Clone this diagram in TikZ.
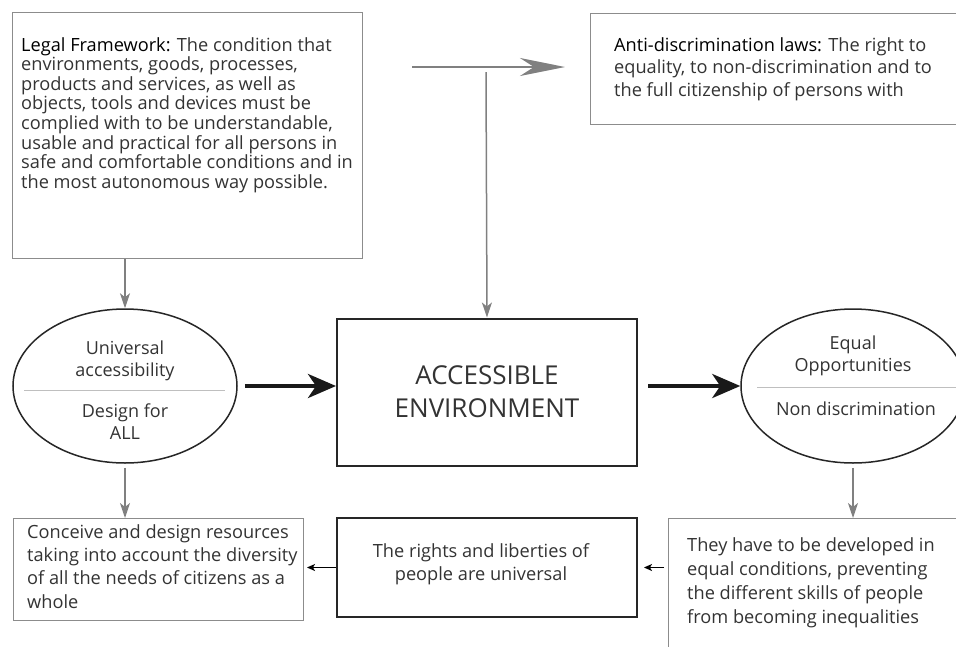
\documentclass[tikz,border=0pt]{standalone}
\usepackage{fontspec}
\setmainfont{Open Sans}
\usetikzlibrary{arrows.meta,shapes.geometric}

\definecolor{linegray}{HTML}{808080}
\definecolor{boxgray}{HTML}{8C8C8C}
\definecolor{txtgray}{HTML}{333333}

\tikzset{
  framebox/.style={draw=boxgray, line width=1pt, inner sep=0pt},
  heavybox/.style={draw=black!85, line width=2pt, inner sep=0pt},
  bodytext/.style={inner sep=0pt, align=left, text=txtgray, font=\fontsize{18.2}{23.4}\selectfont},
  ovaltext/.style={inner sep=0pt, align=center, text=txtgray, font=\fontsize{18}{22}\selectfont},
  oval/.style={ellipse, draw=black!85, line width=1.5pt, minimum width=224pt, minimum height=154pt, inner sep=0pt},
  divider/.style={draw=black!25, line width=0.8pt},
  feed/.style={draw=linegray, line width=1.5pt, -{Stealth[length=15pt, width=10pt, inset=4pt]}},
  feedwide/.style={draw=linegray, line width=2.6pt, -{Stealth[length=45pt, width=18pt, inset=14pt]}},
  push/.style={draw=black!90, line width=4pt, -{Stealth[length=28pt, width=24pt, inset=8pt]}},
  back/.style={draw=black, line width=1pt, -{Stealth[length=8pt, width=7pt, inset=2pt]}}
}

\begin{document}
\begin{tikzpicture}[x=1pt, y=-1pt]
  \useasboundingbox (0,0) rectangle (956,646);

  % top row
  \node[framebox, anchor=north west, minimum width=350pt, minimum height=246pt] (legal) at (12,12) {};
  \node[bodytext, anchor=north west, font=\fontsize{18.2}{19.6}\selectfont] (legaltxt) at (21,37)
    {\textcolor{black}{Legal Framework:} The condition that\\
     environments, goods, processes,\\
     products and services, as well as\\
     objects, tools and devices must be\\
     complied with to be understandable,\\
     usable and practical for all persons in\\
     safe and comfortable conditions and in\\
     the most autonomous way possible.};

  \node[framebox, anchor=north west, minimum width=372pt, minimum height=111pt] (antilaw) at (590,13) {};
  \node[bodytext, anchor=north west, font=\fontsize{18.2}{22.8}\selectfont] (antitxt) at (614,37)
    {\textcolor{black}{Anti-discrimination laws:} The right to\\
     equality, to non-discrimination and to\\
     the full citizenship of persons with};

  \coordinate (feedstart) at (412,67);
  \coordinate (feedend) at (565,67);
  \coordinate (drop) at (486,72);

  % middle row
  \node[heavybox, minimum width=300pt, minimum height=147pt, align=center,
        text=txtgray, font=\fontsize{26}{33}\selectfont] (core) at (487,392) {ACCESSIBLE\\ENVIRONMENT};

  \node[oval] (univ) at (125,386) {};
  \node[ovaltext] (univtop) at (125,361) {Universal\\accessibility};
  \node[ovaltext] (univbot) at (125,422) {Design for\\ALL};
  \draw[divider] (24,390) -- (225,390);

  \node[oval] (equal) at (853,386) {};
  \node[ovaltext] (equaltop) at (853,356) {Equal\\Opportunities};
  \node[ovaltext] (equalbot) at (856,409) {Non discrimination};
  \draw[divider] (757,387) -- (960,387);

  % bottom row
  \node[framebox, anchor=north west, minimum width=290pt, minimum height=102pt] (design) at (13,518) {};
  \node[bodytext, anchor=north west] (designtxt) at (27,524)
    {Conceive and design resources\\
     taking into account the diversity\\
     of all the needs of citizens as a\\
     whole};

  \node[heavybox, minimum width=300pt, minimum height=99pt] (rights) at (487,567.5) {};
  \node[bodytext, align=center] (rightstxt) at (481,564) {The rights and liberties of\\people are universal};

  \node[framebox, anchor=north west, minimum width=300pt, minimum height=140pt] (skills) at (668,518) {};
  \node[bodytext, anchor=north west, font=\fontsize{18.2}{24}\selectfont] (skillstxt) at (687,537)
    {They have to be developed in\\
     equal conditions, preventing\\
     the different skills of people\\
     from becoming inequalities};

  % connectors
  \draw[feedwide] (feedstart) -- (feedend);
  \draw[feed] (drop) -- (core.north);
  \draw[feed] (univ.north |- legal.south) -- (univ.north);
  \draw[feed, shorten <=4pt] (univ.south) -- (univ.south |- design.north);
  \draw[feed, shorten <=4pt] (equal.south) -- (equal.south |- skills.north);
  \draw[push, shorten <=7pt] (univ.east) -- (univ.east -| core.west);
  \draw[push, shorten <=10pt] (core.east |- equal.west) -- (equal.west);
  \draw[back, shorten >=3pt] (rights.west) -- (rights.west -| design.east);
  \draw[back, shorten <=4pt, shorten >=6pt] (skills.west |- rights.east) -- (rights.east);
\end{tikzpicture}
\end{document}
